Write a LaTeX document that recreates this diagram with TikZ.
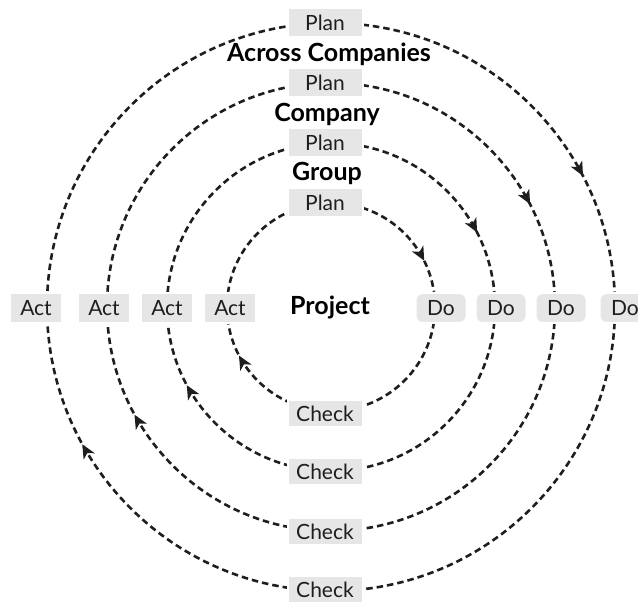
\documentclass[tikz,border=0pt]{standalone}
\usepackage{fontspec}
\setmainfont{Lato}
\usetikzlibrary{decorations.markings,calc}
\definecolor{boxgray}{HTML}{E6E6E6}
\definecolor{inkgray}{HTML}{1E1E1E}
% filled arrow head laid along the circle
\newcommand{\ringtip}{\fill[inkgray,solid] (3pt,0pt) -- (-11pt,6.5pt) -- (-7pt,0pt) -- (-11pt,-6.5pt) -- cycle;}

\begin{document}
\begin{tikzpicture}[
  ring/.style={line width=2.6pt,dash pattern=on 6.5pt off 4pt,inkgray,
    decoration={markings,
      mark=at position 0.172 with {\ringtip},
      mark=at position 0.668 with {\ringtip}},
    postaction={decorate}},
  tag/.style={fill=boxgray,draw=white,line width=2pt,inner sep=0pt,text=inkgray,
    font=\fontsize{21}{21}\selectfont},
  plantag/.style={tag,minimum width=75pt,minimum height=29pt},
  checktag/.style={tag,minimum width=75pt,minimum height=27pt},
  acttag/.style={tag,minimum width=52pt,minimum height=30pt},
  dotag/.style={tag,minimum width=51pt,minimum height=30pt,rounded corners=7pt},
  level/.style={anchor=base,text=black,font=\fontsize{25}{25}\selectfont\bfseries}
]
\useasboundingbox (0,0) rectangle (638pt,602pt);
\coordinate (ctr) at (331pt,295pt);

% the four cycles, Plan -> Do -> Check -> Act
\draw[ring] ($(ctr)+(90:104pt)$) arc[start angle=90,end angle=-270,radius=104pt];
\draw[ring] ($(ctr)+(90:164pt)$) arc[start angle=90,end angle=-270,radius=164pt];
\draw[ring] ($(ctr)+(90:224pt)$) arc[start angle=90,end angle=-270,radius=224pt];
\draw[ring] ($(ctr)+(90:284pt)$) arc[start angle=90,end angle=-270,radius=284pt];

% Plan
\node[plantag] (planA) at (325pt,399pt) {Plan};
\node[plantag] (planB) at (325pt,459pt) {Plan};
\node[plantag] (planC) at (325pt,519pt) {Plan};
\node[plantag] (planD) at (325pt,579pt) {Plan};

% Do
\node[dotag] (doA) at (441pt,294pt) {Do};
\node[dotag] (doB) at (501pt,294pt) {Do};
\node[dotag] (doC) at (561pt,294pt) {Do};
\node[dotag] (doD) at (625pt,294pt) {Do};

% Check
\node[checktag] (checkA) at (325pt,188pt) {Check};
\node[checktag] (checkB) at (325pt,130pt) {Check};
\node[checktag] (checkC) at (325pt,70pt) {Check};
\node[checktag] (checkD) at (325pt,12pt) {Check};

% Act
\node[acttag] (actA) at (230pt,294pt) {Act};
\node[acttag] (actB) at (167pt,294pt) {Act};
\node[acttag] (actC) at (104pt,294pt) {Act};
\node[acttag] (actD) at (36pt,294pt) {Act};

% level names
\node[level] (project) at (330pt,287pt) {Project};
\node[level] (group) at (327pt,421pt) {Group};
\node[level] (company) at (327pt,480pt) {Company};
\node[level] (across) at (329pt,540pt) {Across Companies};
\end{tikzpicture}
\end{document}
